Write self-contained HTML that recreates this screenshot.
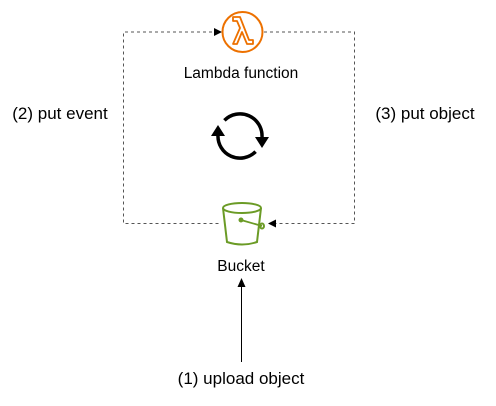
<!DOCTYPE html>
<html><head><style>
body{margin:0;background:#fff;}
svg text{font-family:"Liberation Sans",sans-serif;}
</style></head><body>
<svg width="496" height="401" viewBox="0 0 496 401" xmlns="http://www.w3.org/2000/svg">
<g fill="none" stroke="#555" stroke-width="1" stroke-dasharray="3,3">
<path d="M218 32 H123.5 V223.5 H221"/>
<path d="M264 32 H354.5 V223.5 H276"/>
</g>
<polygon points="222,32 214,28 214,36" fill="#000"/>
<polygon points="268,223.5 276,219.5 276,227.5" fill="#000"/>
<circle cx="242.5" cy="32" r="20" fill="#fff" stroke="#ed7100" stroke-width="2"/>
<path d="M233 44 L240 28 L237 21 L233 21 L233 17 L240 17 L249 40 L253 40 L253 44 L247 44 L242 32 L237 44 Z" fill="none" stroke="#ed7100" stroke-width="1.8" stroke-linejoin="round"/>
<text x="241" y="78" font-size="15.5" text-anchor="middle" fill="#000">Lambda function</text>
<g fill="none" stroke="#000" stroke-width="3.5">
<path d="M224.4 120.4 A22 22 0 0 1 262 137"/>
<path d="M255.6 151.6 A22 22 0 0 1 218 135"/>
</g>
<polygon points="255,137 269,137 262,148" fill="#000"/>
<polygon points="211,136 225,136 218,125" fill="#000"/>
<g fill="none" stroke="#6b9b26" stroke-width="2">
<ellipse cx="242" cy="208" rx="19" ry="5"/>
<path d="M223 208 L227 242 Q242 247 257 242 L261 208"/>
<path d="M241 220 L262 226" stroke-width="1.8"/>
<circle cx="241" cy="220" r="1.5" fill="#6b9b26"/>
<ellipse cx="262" cy="226" rx="2" ry="2.5"/>
</g>
<text x="241" y="271" font-size="15.5" text-anchor="middle" fill="#000">Bucket</text>
<line x1="241.5" y1="362" x2="241.5" y2="285" stroke="#000" stroke-width="1"/>
<polygon points="241.5,278 237.5,287 245.5,287" fill="#000"/>
<text x="241" y="384" font-size="17" text-anchor="middle" fill="#000">(1) upload object</text>
<text x="60" y="119" font-size="17" text-anchor="middle" fill="#000">(2) put event</text>
<text x="425" y="119" font-size="17" text-anchor="middle" fill="#000">(3) put object</text>
</svg>
</body></html>
